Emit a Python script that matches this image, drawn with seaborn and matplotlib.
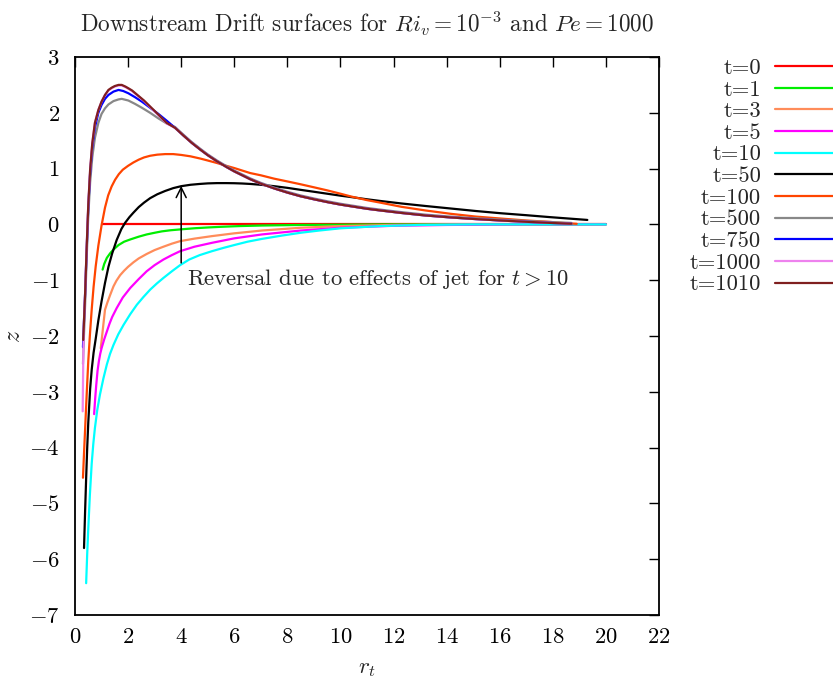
import matplotlib
matplotlib.use("Agg")
import matplotlib.pyplot as plt
import seaborn as sns
import pandas as pd

# ---------------- data ----------------
r_t0 = [1.0, 20.0]
z_t0 = [0.0, 0.0]

r_t1 = [1.04, 1.10, 1.20, 1.32, 1.45, 1.64, 1.85, 2.08, 2.40, 2.70, 3.0, 3.27, 3.6, 3.96, 4.53, 5.0, 5.5, 6.2, 7.04, 8.5, 10, 12, 15, 20]
z_t1 = [-0.81, -0.71, -0.60, -0.52, -0.45, -0.37, -0.31, -0.27, -0.22, -0.18, -0.15, -0.125, -0.105, -0.09, -0.068, -0.055, -0.043, -0.03, -0.02, -0.01, -0.005, 0, 0, 0]

r_t3 = [0.97, 1.13, 1.22, 1.32, 1.45, 1.56, 1.70, 1.85, 2.0, 2.2, 2.40, 2.70, 3.0, 3.33, 3.65, 3.96, 4.5, 5.16, 6.0, 7.04, 8.5, 10, 12, 15, 20]
z_t3 = [-2.22, -1.53, -1.40, -1.27, -1.11, -1.01, -0.91, -0.83, -0.76, -0.68, -0.61, -0.53, -0.46, -0.40, -0.345, -0.30, -0.255, -0.21, -0.16, -0.11, -0.06, -0.03, -0.01, 0, 0]

r_t5 = [0.72, 0.76, 0.80, 0.85, 0.90, 0.95, 1.0, 1.10, 1.20, 1.30, 1.40, 1.57, 1.80, 2.08, 2.40, 2.70, 3.0, 3.33, 3.65, 3.96, 4.5, 5.16, 6.0, 7.04, 8.5, 10, 12, 14, 17, 20]
z_t5 = [-3.40, -3.12, -2.88, -2.62, -2.45, -2.32, -2.22, -2.06, -1.92, -1.78, -1.66, -1.50, -1.31, -1.14, -0.98, -0.84, -0.73, -0.63, -0.55, -0.48, -0.40, -0.33, -0.25, -0.18, -0.11, -0.06, -0.025, -0.01, 0, 0]

r_t10 = [0.42, 0.46, 0.50, 0.56, 0.63, 0.69, 0.75, 0.84, 0.94, 1.07, 1.20, 1.32, 1.45, 1.63, 1.83, 2.08, 2.33, 2.58, 2.83, 3.08, 3.33, 3.65, 3.96, 4.3, 4.7, 5.16, 5.6, 6.0, 6.5, 7.04, 7.8, 8.5, 9.2, 10, 11.5, 13, 15, 20]
z_t10 = [-6.43, -5.90, -5.45, -4.85, -4.28, -3.93, -3.65, -3.32, -3.05, -2.76, -2.51, -2.32, -2.16, -1.97, -1.80, -1.61, -1.44, -1.30, -1.17, -1.06, -0.96, -0.84, -0.73, -0.63, -0.55, -0.48, -0.42, -0.37, -0.31, -0.26, -0.20, -0.15, -0.11, -0.07, -0.03, -0.01, 0, 0]

r_t50 = [0.34, 0.38, 0.42, 0.46, 0.50, 0.57, 0.63, 0.70, 0.78, 0.88, 1.0, 1.13, 1.26, 1.40, 1.57, 1.75, 1.89, 2.05, 2.2, 2.4, 2.6, 2.83, 3.1, 3.4, 3.7,
         4.0, 4.35, 4.7, 5.0, 5.35, 5.7, 6.0, 6.3, 6.6, 7.0, 7.5, 8.0, 8.49, 9.0, 9.5, 10.0, 10.4, 11.0, 11.5, 12.3, 13.2, 14.15, 15.1,
         16.04, 17.0, 17.9, 18.6, 19.3]
z_t50 = [-5.80, -5.15, -4.55, -4.00, -3.55, -2.95, -2.60, -2.30, -2.05, -1.72, -1.38, -1.05, -0.76, -0.52, -0.28, -0.08, 0.03, 0.13, 0.21, 0.31, 0.39, 0.47, 0.54, 0.60, 0.65,
         0.685, 0.71, 0.725, 0.735, 0.74, 0.74, 0.738, 0.733, 0.725, 0.71, 0.685, 0.655, 0.62, 0.585, 0.55, 0.515, 0.49, 0.45, 0.42, 0.375, 0.33, 0.285, 0.24,
         0.20, 0.165, 0.13, 0.105, 0.08]

r_t100 = [0.30, 0.34, 0.38, 0.44, 0.50, 0.57, 0.63, 0.70, 0.78, 0.88, 1.0, 1.13, 1.25, 1.38, 1.51, 1.65, 1.8, 2.0, 2.2, 2.4, 2.6, 2.83, 3.1, 3.4, 3.7,
          4.0, 4.35, 4.72, 5.0, 5.35, 5.7, 6.0, 6.6, 7.0, 7.5, 8.0, 8.49, 9.0, 9.5, 10.0, 10.4, 11.0, 11.5, 12.3, 13.2, 14.15, 15.1, 16.04, 17.0,
          17.9, 18.4, 18.9]
z_t100 = [-4.54, -4.10, -3.68, -3.05, -2.45, -1.92, -1.52, -1.12, -0.75, -0.38, -0.02, 0.30, 0.52, 0.68, 0.80, 0.90, 0.98, 1.05, 1.11, 1.16, 1.20, 1.23, 1.25, 1.26, 1.26,
          1.245, 1.22, 1.18, 1.145, 1.10, 1.05, 1.01, 0.92, 0.88, 0.82, 0.77, 0.72, 0.665, 0.61, 0.55, 0.50, 0.435, 0.39, 0.315, 0.25, 0.19, 0.14, 0.105, 0.07,
          0.045, 0.025, 0.01]

# common decaying tail of the late-time surfaces (t >= 500)
r_tail = [3.77, 4.09, 4.4, 4.72, 5.0, 5.35, 5.7, 6.0, 6.6, 7.0, 7.5, 8.0, 8.49, 9.0, 9.5, 10.0, 10.4, 11.0, 11.5, 12.3, 13.2, 14.15, 15.1, 16.04, 17.0, 17.9, 18.7]
z_tail = [1.73, 1.59, 1.46, 1.34, 1.24, 1.13, 1.03, 0.95, 0.81, 0.73, 0.645, 0.57, 0.505, 0.45, 0.40, 0.355, 0.325, 0.28, 0.25, 0.205, 0.16, 0.125, 0.095, 0.07, 0.047, 0.027, 0.012]

r_t500 = [0.30, 0.34, 0.38, 0.44, 0.50, 0.57, 0.65, 0.75, 0.88, 1.0, 1.13, 1.26, 1.45, 1.64, 1.76, 2.01, 2.26, 2.52, 2.83, 3.14, 3.45]
z_t500 = [-2.50, -1.95, -1.45, -0.60, 0.15, 0.75, 1.20, 1.55, 1.82, 1.98, 2.08, 2.15, 2.21, 2.24, 2.25, 2.22, 2.16, 2.09, 2.00, 1.90, 1.81]

r_t750 = [0.30, 0.34, 0.38, 0.44, 0.50, 0.57, 0.65, 0.75, 0.88, 1.0, 1.13, 1.26, 1.45, 1.64, 1.82, 2.01, 2.26, 2.52, 2.83, 3.14, 3.45]
z_t750 = [-2.20, -1.70, -1.25, -0.45, 0.30, 0.92, 1.38, 1.74, 2.00, 2.14, 2.25, 2.32, 2.38, 2.41, 2.39, 2.35, 2.28, 2.20, 2.09, 1.98, 1.86]

r_t1000 = [0.29, 0.31, 0.34, 0.38, 0.44, 0.50, 0.57, 0.65, 0.75, 0.88, 1.0, 1.13, 1.26, 1.38, 1.5, 1.64, 1.76, 1.9, 2.01, 2.15, 2.3, 2.45,
           2.6, 2.75, 2.9, 3.05, 3.2, 3.45]
z_t1000 = [-3.35, -2.45, -1.75, -1.25, -0.40, 0.35, 0.98, 1.45, 1.82, 2.05, 2.20, 2.32, 2.40, 2.44, 2.47, 2.49, 2.49, 2.46, 2.43, 2.39, 2.33, 2.27,
           2.21, 2.14, 2.07, 2.00, 1.93, 1.81]

r_t1010 = [0.31, 0.34, 0.38, 0.44, 0.50, 0.57, 0.65, 0.75, 0.88, 1.0, 1.13, 1.26, 1.38, 1.5, 1.64, 1.76, 1.9, 2.01, 2.15, 2.3, 2.45,
           2.6, 2.75, 2.9, 3.05, 3.2, 3.45]
z_t1010 = [-2.07, -1.72, -1.25, -0.40, 0.35, 0.98, 1.45, 1.82, 2.05, 2.20, 2.32, 2.41, 2.45, 2.48, 2.50, 2.50, 2.47, 2.44, 2.40, 2.34, 2.28,
           2.22, 2.15, 2.08, 2.01, 1.94, 1.82]

labels = ["t=0", "t=1", "t=3", "t=5", "t=10", "t=50", "t=100", "t=500", "t=750", "t=1000", "t=1010"]
colors = ["#ff0000", "#00ee00", "#ff8c5a", "#ff00ff", "#00ffff", "#000000", "#ff4500",
          "#888888", "#0000ff", "#ee82ee", "#7f1f1f"]

series_r = [r_t0, r_t1, r_t3, r_t5, r_t10, r_t50, r_t100,
            r_t500 + r_tail, r_t750 + r_tail, r_t1000 + r_tail, r_t1010 + r_tail]
series_z = [z_t0, z_t1, z_t3, z_t5, z_t10, z_t50, z_t100,
            z_t500 + [v + 0.015 for v in z_tail], z_t750 + z_tail, z_t1000 + z_tail, z_t1010 + z_tail]

# ---------------- styling ----------------
sns.set_theme(style="white")
plt.rcParams.update({
    "font.family": "serif",
    "font.serif": ["cmr10", "DejaVu Serif"],
    "mathtext.fontset": "cm",
    "axes.formatter.use_mathtext": True,
    "axes.unicode_minus": True,
})

FS = 16.3

fig = plt.figure(figsize=(8.33, 6.79), dpi=100)
ax = fig.add_axes([75 / 833, 1 - 615 / 679, (659 - 75) / 833, (615 - 57) / 679])

for r, z, lab, col in zip(series_r, series_z, labels, colors):
    df = pd.DataFrame({"r": r, "z": z})
    sns.lineplot(data=df, x="r", y="z", ax=ax, color=col, linewidth=1.6,
                 label=lab, sort=False, estimator=None)

ax.set_xlim(0, 22)
ax.set_ylim(-7, 3)
ax.set_xticks(range(0, 23, 2))
ax.set_yticks(range(-7, 4, 1))
ax.tick_params(direction="in", length=7, width=1, top=True, right=True,
               labelsize=FS, colors="black")
ax.tick_params(axis="y", pad=11)
ax.tick_params(axis="x", pad=9)
for s in ax.spines.values():
    s.set_visible(True)
    s.set_color("black")
    s.set_linewidth(1.3)

ax.set_xlabel(r"$r_t$", fontsize=FS + 0.5)
ax.set_ylabel(r"$z$", fontsize=FS + 1)
ax.xaxis.set_label_coords(0.5, (615 - 657) / 558)
ax.yaxis.set_label_coords((25 - 75) / 584, 0.5)
ax.set_title(r"Downstream Drift surfaces for $Ri_v = 10^{-3}$ and $Pe = 1000$",
             fontsize=FS + 0.4, pad=18)

ax.annotate("", xy=(4, 0.69), xytext=(4, -0.69),
            arrowprops=dict(arrowstyle="->", color="black", lw=1.1,
                            mutation_scale=18, shrinkA=0, shrinkB=0))
ax.text(4.23, -0.98, r"Reversal due to effects of jet for $t > 10$",
        fontsize=FS, ha="left", va="center")

leg = ax.legend(loc="upper right", bbox_to_anchor=(845 / 833, 1 - 58 / 679),
                bbox_transform=fig.transFigure, frameon=False, markerfirst=False,
                fontsize=FS, handlelength=3.1, handletextpad=0.6,
                labelspacing=0.08, borderpad=0, borderaxespad=0)

fig.savefig("out.png", dpi=100)
